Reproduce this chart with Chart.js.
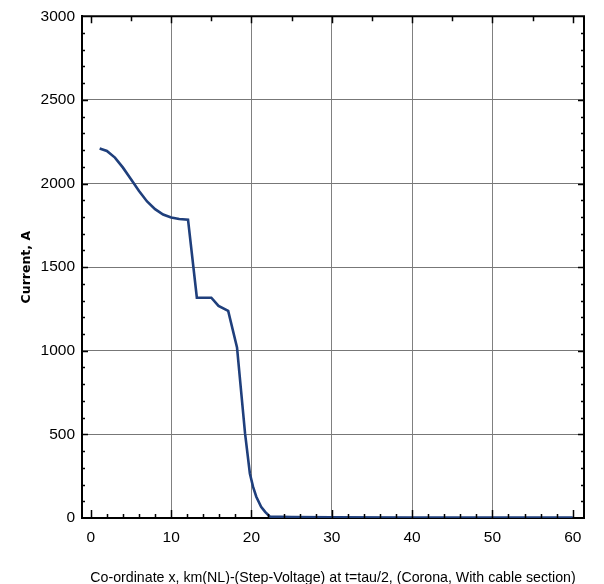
<!DOCTYPE html>
<html>
<head>
<meta charset="utf-8">
<script src="https://cdn.jsdelivr.net/npm/chart.js@4"></script>
<style>
  html, body { margin: 0; padding: 0; background: #fff; }
  #wrap { width: 604px; height: 584px; }
</style>
</head>
<body>
<div id="wrap"><canvas id="chart"></canvas></div>
<script>
// values
const xs = [1.1, 2, 3, 4, 5, 6, 7, 8, 9, 10, 11, 12.1, 13.2, 15.0, 15.9, 17.1, 18.2, 19.2, 19.8, 20.2, 20.6, 21.2, 21.7, 22.3, 25, 30, 40, 50, 60];
const currents = [2210, 2195, 2155, 2095, 2025, 1955, 1893, 1847, 1815, 1797, 1788, 1784, 1317, 1317, 1268, 1238, 1020, 506, 266, 186, 127, 67, 37, 8, 5, 4, 3, 3, 3];
const xTicks = [0, 10, 20, 30, 40, 50, 60];
const yTicks = [0, 500, 1000, 1500, 2000, 2500, 3000];
const xTitle = "Co-ordinate x, km(NL)-(Step-Voltage) at t=tau/2, (Corona, With cable section)";
const yTitle = "Current, A";

const tickFont = { family: "'Liberation Sans', Arial, sans-serif", size: 15.5 };

// frame on top/right plus small inward ticks like the original plot
const framePlugin = {
  id: "frame",
  afterDraw(chart) {
    const { ctx, chartArea: a, scales } = chart;
    const x = scales.x, y = scales.y;
    ctx.save();
    ctx.strokeStyle = "#000";
    ctx.lineWidth = 2;
    ctx.beginPath();
    ctx.moveTo(a.left, a.top); ctx.lineTo(a.right, a.top); ctx.lineTo(a.right, a.bottom);
    ctx.stroke();

    ctx.lineWidth = 1.5;
    ctx.beginPath();
    // bottom ticks every 2, longer at 10
    for (let v = 0; v <= 60; v += 2) {
      const px = Math.round(x.getPixelForValue(v)) + 0.5;
      const len = v % 10 === 0 ? 8 : 4;
      ctx.moveTo(px, a.bottom); ctx.lineTo(px, a.bottom - len);
    }
    // top ticks every 5
    for (let v = 0; v <= 60; v += 5) {
      const px = Math.round(x.getPixelForValue(v)) + 0.5;
      ctx.moveTo(px, a.top); ctx.lineTo(px, a.top + (v % 10 === 0 ? 7 : 5));
    }
    // left and right ticks every 100
    for (let v = 100; v < 3000; v += 100) {
      const py = Math.round(y.getPixelForValue(v)) + 0.5;
      const len = v % 500 === 0 ? 6 : 3;
      ctx.moveTo(a.left, py); ctx.lineTo(a.left + len, py);
      ctx.moveTo(a.right, py); ctx.lineTo(a.right - len, py);
    }
    ctx.stroke();
    ctx.restore();
  }
};

new Chart(document.getElementById("chart"), {
  type: "line",
  data: {
    datasets: [{
      data: xs.map((v, i) => ({ x: v, y: currents[i] })),
      borderColor: "#1f3f7c",
      borderWidth: 2.6,
      pointRadius: 0,
      fill: false,
      tension: 0
    }]
  },
  options: {
    responsive: true,
    maintainAspectRatio: false,
    animation: false,
    layout: { padding: { top: 14, right: 20, left: 0, bottom: 0 } },
    plugins: { legend: { display: false }, tooltip: { enabled: false } },
    scales: {
      x: {
        type: "linear",
        min: -1.1,
        max: 61.4,
        afterBuildTicks: s => { s.ticks = xTicks.map(v => ({ value: v })); },
        afterFit: s => { s.height = 66; },
        grid: {
          drawTicks: false,
          lineWidth: 1,
          color: c => (c.tick && (c.tick.value === 0 || c.tick.value === 60)) ? "rgba(0,0,0,0)" : "#808080"
        },
        border: { display: true, color: "#000", width: 2 },
        ticks: { color: "#000", font: tickFont, padding: 10, maxRotation: 0, callback: v => String(v) },
        title: {
          display: true,
          text: xTitle,
          color: "#000",
          font: { family: "'Liberation Sans', Arial, sans-serif", size: 14.2 },
          padding: { top: 0, bottom: -3 }
        }
      },
      y: {
        min: 0,
        max: 3000,
        afterBuildTicks: s => { s.ticks = yTicks.map(v => ({ value: v })); },
        afterFit: s => { s.width = 82; },
        grid: {
          drawTicks: false,
          lineWidth: 1,
          color: c => (c.tick && (c.tick.value === 0 || c.tick.value === 3000)) ? "rgba(0,0,0,0)" : "#777777"
        },
        border: { display: true, color: "#000", width: 2 },
        ticks: { color: "#000", font: tickFont, padding: 7, callback: v => String(v) },
        title: {
          display: true,
          text: yTitle,
          color: "#000",
          font: { family: "'DejaVu Sans', sans-serif", size: 12.5, weight: "bold" },
          padding: { top: 19, bottom: 0 }
        }
      }
    }
  },
  plugins: [framePlugin]
});
</script>
</body>
</html>
